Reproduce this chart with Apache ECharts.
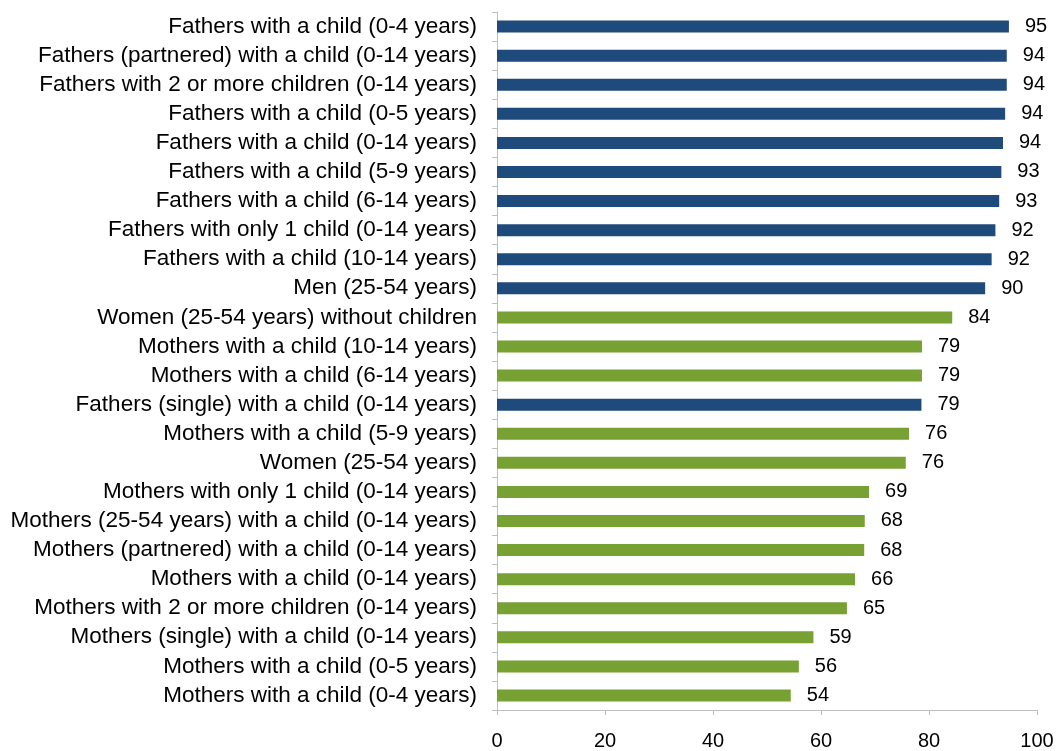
<!DOCTYPE html>
<html>
<head>
<meta charset="utf-8">
<script src="https://cdn.jsdelivr.net/npm/echarts@6/dist/echarts.min.js"></script>
<style>
  html, body { margin: 0; padding: 0; background: #ffffff; }
  #chart { width: 1057px; height: 751px; }
</style>
</head>
<body>
<div id="chart"></div>
<script>
// Employment rate by group, listed top to bottom
var categories = [
  "Fathers with a child (0-4 years)",
  "Fathers (partnered) with a child (0-14 years)",
  "Fathers with 2 or more children (0-14 years)",
  "Fathers with a child (0-5 years)",
  "Fathers with a child (0-14 years)",
  "Fathers with a child (5-9 years)",
  "Fathers with a child (6-14 years)",
  "Fathers with only 1 child (0-14 years)",
  "Fathers with a child (10-14 years)",
  "Men (25-54 years)",
  "Women (25-54 years) without children",
  "Mothers with a child (10-14 years)",
  "Mothers with a child (6-14 years)",
  "Fathers (single) with a child (0-14 years)",
  "Mothers with a child (5-9 years)",
  "Women (25-54 years)",
  "Mothers with only 1 child (0-14 years)",
  "Mothers (25-54 years) with a child (0-14 years)",
  "Mothers (partnered) with a child (0-14 years)",
  "Mothers with a child (0-14 years)",
  "Mothers with 2 or more children (0-14 years)",
  "Mothers (single) with a child (0-14 years)",
  "Mothers with a child (0-5 years)",
  "Mothers with a child (0-4 years)"
];

var rates = [
  94.8, 94.4, 94.4, 94.1, 93.7, 93.4, 93.0, 92.3, 91.6, 90.4,
  84.3, 78.7, 78.7, 78.6, 76.3, 75.7, 68.9, 68.1, 68.0, 66.3,
  64.8, 58.6, 55.9, 54.4
];

var xTicks = [0, 20, 40, 60, 80, 100];

var MALE_COLOR = "#1f4a7c";
var FEMALE_COLOR = "#78a133";

function isMale(name) {
  return name.indexOf("Fathers") === 0 || name.indexOf("Men") === 0;
}

var chart = echarts.init(document.getElementById("chart"), null, { renderer: "canvas" });

var fontFamily = "Liberation Sans, Arial, sans-serif";

chart.setOption({
  backgroundColor: "#ffffff",
  animation: false,
  grid: { left: 497, right: 20, top: 12, bottom: 38, containLabel: false },
  xAxis: {
    type: "value",
    min: xTicks[0],
    max: xTicks[xTicks.length - 1],
    interval: 20,
    splitLine: { show: false },
    axisLine: { show: true, lineStyle: { color: "#bfbfbf", width: 1 } },
    axisTick: { show: true, length: 5, lineStyle: { color: "#bfbfbf" } },
    axisLabel: {
      color: "#000000",
      fontFamily: fontFamily,
      fontSize: 20,
      margin: 21
    }
  },
  yAxis: {
    type: "category",
    data: categories,
    inverse: true,
    axisLine: { show: true, lineStyle: { color: "#bfbfbf", width: 1 } },
    axisTick: { show: true, interval: 0, length: 5, lineStyle: { color: "#bfbfbf" } },
    axisLabel: {
      interval: 0,
      color: "#000000",
      fontFamily: fontFamily,
      fontSize: 22.5,
      margin: 20
    }
  },
  series: [{
    type: "bar",
    data: rates,
    barWidth: 12,
    itemStyle: {
      color: function (p) {
        return isMale(categories[p.dataIndex]) ? MALE_COLOR : FEMALE_COLOR;
      }
    },
    label: {
      show: true,
      position: "right",
      distance: 16,
      color: "#000000",
      fontFamily: fontFamily,
      fontSize: 20,
      formatter: function (p) { return Math.round(p.value); }
    }
  }]
});
</script>
</body>
</html>
